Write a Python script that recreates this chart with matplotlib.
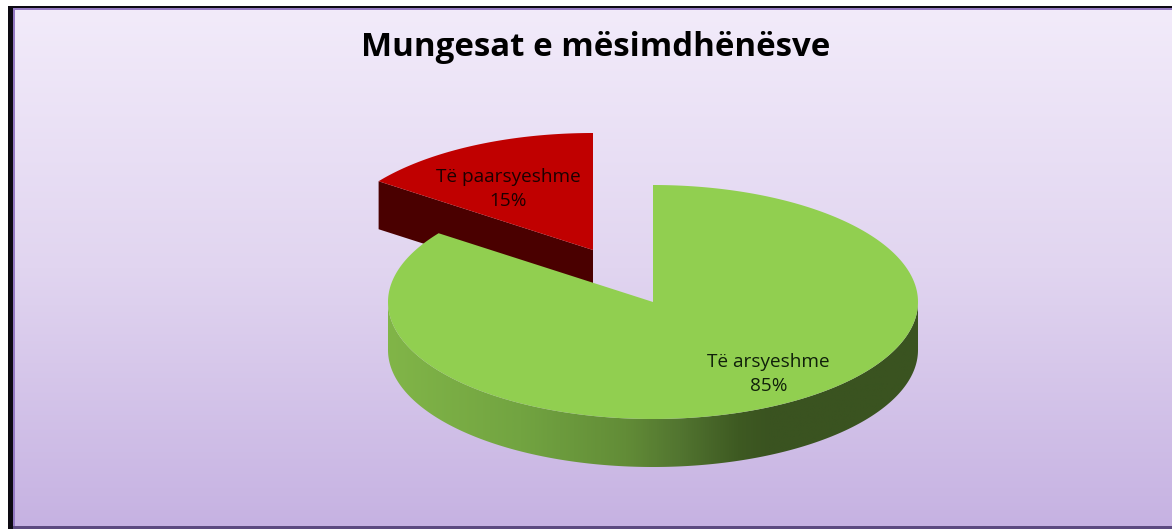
import numpy as np
import matplotlib
matplotlib.use("Agg")
import matplotlib.pyplot as plt
from matplotlib.patches import Polygon, Rectangle
from matplotlib.colors import LinearSegmentedColormap

# data
labels = ["Të arsyeshme", "Të paarsyeshme"]
shares = [85, 15]
title = "Mungesat e mësimdhënësve"

W, H = 1172, 529
plt.rcParams['font.family'] = ['Open Sans', 'DejaVu Sans']

# pie geometry in pixels
rx, ry, depth = 265, 117, 48
cx, cy = 653, 302
explode_x, explode_y = -60, -52


def wedge_xy(a0, a1, x0, y0, n=200):
    # angles are degrees clockwise from the top
    t = np.radians(np.linspace(a0, a1, n))
    xs = x0 + rx * np.sin(t)
    ys = y0 - ry * np.cos(t)
    return np.r_[x0, xs], np.r_[y0, ys]


fig = plt.figure(figsize=(W / 100, H / 100), dpi=100)
fig.patch.set_facecolor('white')
ax = fig.add_axes([0, 0, 1, 1])
ax.set_xlim(0, W)
ax.set_ylim(H, 0)
ax.axis('off')

# frame and background
ax.add_patch(Rectangle((8, 6), W, H, color='#0d0a12', lw=0, zorder=0))
ax.add_patch(Rectangle((12.5, 8), W, H - 8, color='#9479c2', lw=0, zorder=0.5))
ax.add_patch(Rectangle((12.5, 526), W, 3, color='#5c4a80', lw=0, zorder=0.6))
bg_cmap = LinearSegmentedColormap.from_list('bg', ['#f2ebfa', '#e1d5f0', '#c6b2e2'])
ax.imshow(np.linspace(0, 1, 256)[:, None], cmap=bg_cmap, extent=(15, W, 526, 10),
          aspect='auto', zorder=1)
ax.set_xlim(0, W)
ax.set_ylim(H, 0)

angle_green = 360 * shares[0] / sum(shares)

# red slice, pulled out
rx0, ry0 = cx + explode_x, cy + explode_y
xr, yr = wedge_xy(angle_green, 360, rx0, ry0)
side = np.c_[np.r_[xr[0], xr[1]], np.r_[yr[0], yr[1]]]
ax.add_patch(Polygon([side[0], side[1], side[1] + [0, depth], side[0] + [0, depth]],
                     color='#4a0000', lw=0, zorder=2))
ax.add_patch(Polygon(np.c_[xr, yr], color='#c00000', lw=0, zorder=3))

# green slice side wall, shaded left to right
xg, yg = wedge_xy(0, angle_green, cx, cy, n=400)
t = np.radians(np.linspace(90, 270, 300))
wall_x = cx + rx * np.sin(t)
wall_y = cy - ry * np.cos(t)
wall = np.r_[np.c_[wall_x, wall_y], np.c_[wall_x, wall_y + depth][::-1]]
wall_cmap = LinearSegmentedColormap.from_list(
    'wall', [(0, '#81b548'), (0.25, '#72a441'), (0.45, '#628c37'), (0.55, '#527530'),
             (0.66, '#3e5a22'), (0.72, '#3a5320'), (1, '#3a5320')])
wall_im = ax.imshow(np.linspace(0, 1, 512)[None, :], cmap=wall_cmap,
                    extent=(cx - rx, cx + rx, cy + ry + depth, cy),
                    aspect='auto', zorder=4)
wall_patch = Polygon(wall, transform=ax.transData, fc='none', lw=0)
ax.add_patch(wall_patch)
wall_im.set_clip_path(wall_patch)
ax.set_xlim(0, W)
ax.set_ylim(H, 0)

ax.add_patch(Polygon(np.c_[xg, yg], color='#91cf50', lw=0, zorder=5))

# texts
ax.text(596, 48, title, ha='center', va='center', fontsize=23.8, fontweight='bold',
        color='black', zorder=6)
ax.text(508.5, 189, f"{labels[1]}\n{shares[1]}%", ha='center', va='center', fontsize=13.7,
        color='#1c0000', linespacing=1.4, zorder=6)
ax.text(768.5, 374, f"{labels[0]}\n{shares[0]}%", ha='center', va='center', fontsize=13.7,
        color='#10200a', linespacing=1.45, zorder=6)

fig.savefig('out.png', dpi=100)
